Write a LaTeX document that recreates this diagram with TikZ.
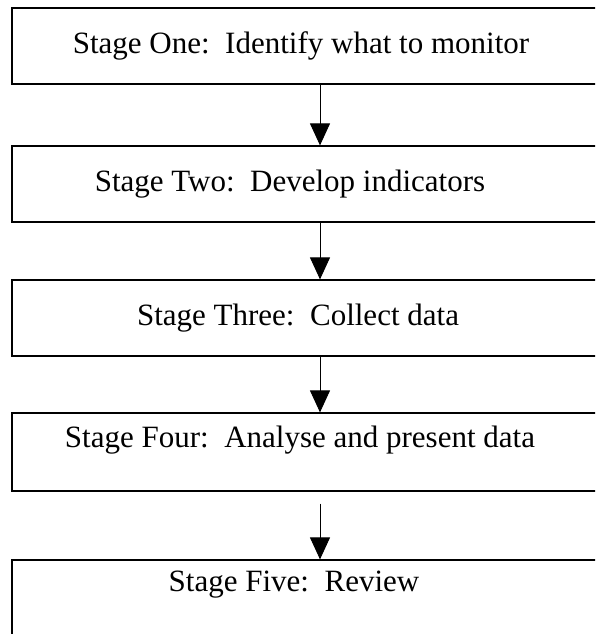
\documentclass[tikz,border=0pt]{standalone}
\usepackage{fontspec}
\setmainfont{Liberation Serif}
\usetikzlibrary{arrows.meta}

\begin{document}
\begin{tikzpicture}[x=1pt,y=-1pt]
\tikzstyle{stage}=[draw,line width=1.2pt,minimum width=616pt,minimum height=76pt,inner sep=0pt]
\tikzstyle{caption}=[anchor=base,inner sep=0pt,font=\fontsize{31}{36}\selectfont]
\tikzstyle{flow}=[line width=1pt,-{Triangle[width=20pt,length=22pt]}]
\useasboundingbox (0,0) rectangle (595,634);
\clip (0,0) rectangle (595,634);
\coordinate (ax) at (320,0);
% the boxes run off the right and bottom edge
\node[stage] (S_1) at (320,46) {};
\node[stage] (S_2) at (320,184) {};
\node[stage] (S_3) at (320,318) {};
\node[stage,minimum height=78pt] (S_4) at (320,452) {};
\node[stage,minimum height=78pt] (S_5) at (320,599) {};
\node[caption] (T_1) at (301,53) {Stage One:\ \ Identify what to monitor};
\node[caption] (T_2) at (290,191) {Stage Two:\ \ Develop indicators};
\node[caption] (T_3) at (298,325) {Stage Three:\ \ Collect data};
\node[caption] (T_4) at (300,447) {Stage Four:\ \ Analyse and present data};
\node[caption] (T_5) at (294,591) {Stage Five:\ \ Review};
\draw[flow] (S_1.south -| ax) -- (S_2.north -| ax);
\draw[flow] (S_2.south -| ax) -- (S_3.north -| ax);
\draw[flow] (S_3.south -| ax) -- (S_4.north -| ax);
\draw[flow,shorten <=12pt] (S_4.south -| ax) -- (S_5.north -| ax);
\end{tikzpicture}
\end{document}
